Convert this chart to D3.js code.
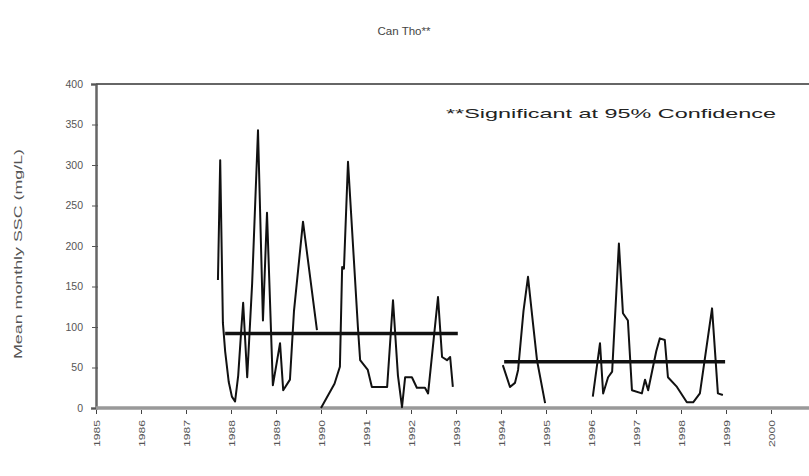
<!DOCTYPE html>
<html>
<head>
<meta charset="utf-8">
<script src="https://cdn.jsdelivr.net/npm/d3@7/dist/d3.min.js"></script>
<style>
  html, body { margin: 0; padding: 0; background: #fff; }
  svg { display: block; }
  text { font-family: "Liberation Sans", Arial, sans-serif; fill: #444; }
</style>
</head>
<body>
<svg id="chart" width="809" height="476"></svg>
<script>
// Can Tho: mean monthly suspended sediment concentration (mg/L)
const stationTitle = "Can Tho**";
const noteText = "**Significant at 95% Confidence";
const yAxisTitle = "Mean monthly SSC (mg/L)";

// Sample times (decimal years); null marks a break in the record
const sampleTimes = [
  1987.71, 1987.76, 1987.82, 1987.87, 1987.95, 1988.02, 1988.09, 1988.16,
  1988.22, 1988.27, 1988.36, 1988.47, 1988.60,
  1988.71, 1988.80, 1988.93, 1989.09, 1989.16, 1989.31, 1989.40, 1989.60, 1989.91,
  null,
  1990.00, 1990.30, 1990.42, 1990.47, 1990.51, 1990.60, 1990.82, 1990.87, 1991.04,
  1991.13, 1991.47, 1991.60, 1991.71, 1991.80, 1991.87, 1992.02, 1992.13,
  1992.31, 1992.38, 1992.60, 1992.69, 1992.80, 1992.87, 1992.93,
  null,
  1994.04, 1994.20, 1994.31, 1994.38, 1994.50, 1994.60, 1994.70, 1994.80, 1994.98,
  null,
  1996.04, 1996.20, 1996.27, 1996.38, 1996.47, 1996.62, 1996.71, 1996.82,
  1996.91, 1997.13, 1997.20, 1997.27, 1997.45, 1997.53, 1997.64, 1997.71, 1997.91,
  1998.13, 1998.27, 1998.42, 1998.69, 1998.82, 1998.93
];
const sscValues = [
  158, 306, 105, 70, 32, 14, 8, 40,
  90, 130, 38, 154, 343,
  108, 241, 28, 80, 22, 35, 120, 230, 96,
  null,
  0, 30, 51, 174, 172, 304, 100, 59, 47,
  26, 26, 133, 40, 1, 38, 38, 25,
  25, 18, 137, 63, 59, 63, 26,
  null,
  53, 26, 31, 47, 120, 162, 110, 59, 6,
  null,
  14, 80, 18, 38, 45, 203, 117, 108,
  22, 18, 35, 22, 70, 86, 84, 38, 26,
  7, 7, 18, 123, 18, 16
];

// Period means
const periodStart = [1987.87, 1994.07];
const periodEnd = [1993.04, 1998.98];
const periodMean = [92, 57];

const yTicks = [0, 50, 100, 150, 200, 250, 300, 350, 400];
const yearTicks = d3.range(1985, 2001);

const svg = d3.select("#chart");
const x = d3.scaleLinear().domain([1985, 2001]).range([96, 816]);
const y = d3.scaleLinear().domain([0, 400]).range([408, 84]);

// Title and note
svg.append("text")
  .attr("x", 404).attr("y", 35)
  .attr("text-anchor", "middle")
  .attr("font-size", 11)
  .attr("textLength", 53).attr("lengthAdjust", "spacingAndGlyphs")
  .text(stationTitle);

svg.append("text")
  .attr("x", 446).attr("y", 118)
  .attr("font-size", 13)
  .attr("textLength", 330).attr("lengthAdjust", "spacingAndGlyphs")
  .style("fill", "#222")
  .text(noteText);

// Plot frame: top edge
svg.append("line")
  .attr("x1", x(1985)).attr("x2", 812)
  .attr("y1", y(400)).attr("y2", y(400))
  .attr("stroke", "#333").attr("stroke-width", 1.5);

// Y axis
const yAxis = svg.append("g")
  .attr("transform", `translate(${x(1985)},0)`)
  .call(d3.axisLeft(y).tickValues(yTicks).tickSize(5).tickPadding(8));
yAxis.select(".domain").attr("stroke", "#666").attr("stroke-width", 2.5);
yAxis.selectAll(".tick line").attr("stroke", "#555").attr("x2", 2).attr("x1", -4);
yAxis.selectAll(".tick text")
  .attr("font-size", 10.5).attr("font-family", "Liberation Sans, Arial, sans-serif")
  .style("fill", "#555");

svg.append("text")
  .attr("transform", `translate(22,${y(200) + 8}) rotate(-90)`)
  .attr("text-anchor", "middle")
  .attr("font-size", 10)
  .attr("textLength", 210).attr("lengthAdjust", "spacingAndGlyphs")
  .style("fill", "#555")
  .text(yAxisTitle);

// X axis
const xAxis = svg.append("g")
  .attr("transform", `translate(0,${y(0)})`)
  .call(d3.axisBottom(x).tickValues(yearTicks).tickFormat(d3.format("d")).tickSize(5).tickSizeOuter(0));
xAxis.select(".domain").attr("stroke", "#999").attr("stroke-width", 3.5)
  .attr("d", `M${x(1985)},0H812`);
xAxis.selectAll(".tick line").attr("stroke", "#444").attr("y1", 2).attr("y2", 6);
xAxis.selectAll(".tick text")
  .attr("font-size", 9).attr("font-family", "Liberation Sans, Arial, sans-serif")
  .style("fill", "#555")
  .attr("text-anchor", "end")
  .attr("dy", "0.35em")
  .attr("transform", "translate(0,12) rotate(-90)")
  .attr("x", 0).attr("y", 0)
  .attr("textLength", 27).attr("lengthAdjust", "spacingAndGlyphs");

// SSC series
const series = sampleTimes.map((t, i) => ({ t, v: sscValues[i] }));
const line = d3.line()
  .defined(d => d.t !== null && d.v !== null)
  .x(d => x(d.t)).y(d => y(d.v));
svg.append("path")
  .datum(series)
  .attr("fill", "none")
  .attr("stroke", "#111")
  .attr("stroke-width", 2)
  .attr("stroke-linejoin", "round")
  .attr("d", line);

// Period mean lines
svg.selectAll(".mean")
  .data(periodMean)
  .join("line")
  .attr("class", "mean")
  .attr("x1", (d, i) => x(periodStart[i]))
  .attr("x2", (d, i) => x(periodEnd[i]))
  .attr("y1", d => y(d)).attr("y2", d => y(d))
  .attr("stroke", "#111").attr("stroke-width", 3.5);
</script>
</body>
</html>
